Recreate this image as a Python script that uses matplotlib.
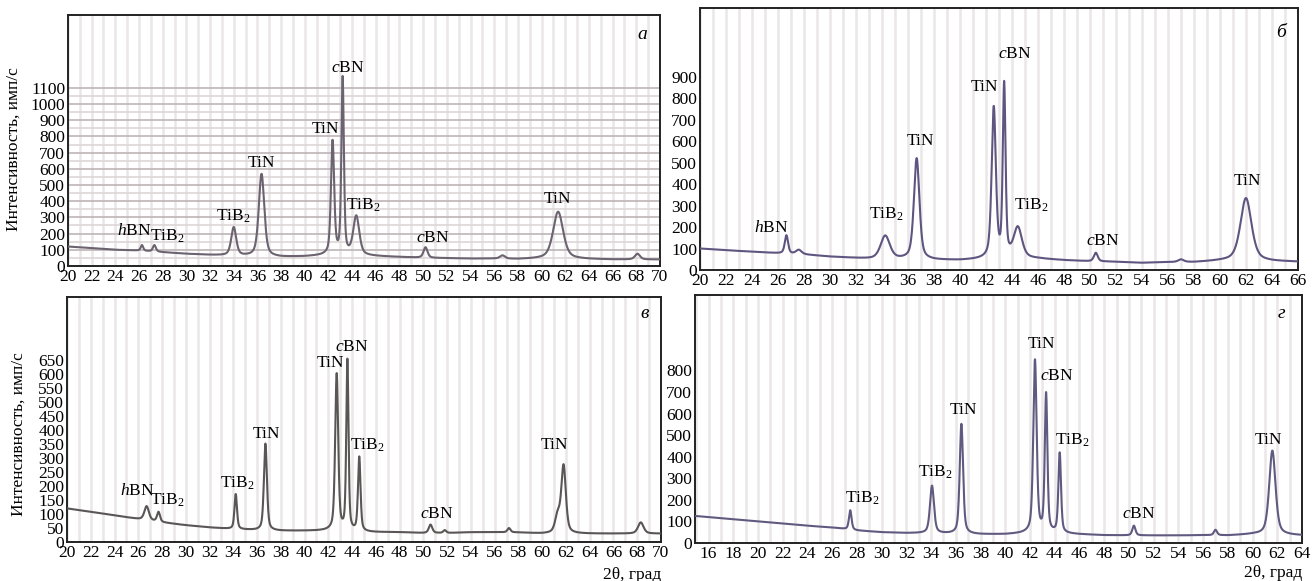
import numpy as np
import matplotlib
matplotlib.use('Agg')
import matplotlib.pyplot as plt

plt.rcParams['font.family'] = ['Liberation Serif', 'DejaVu Serif']
plt.rcParams['mathtext.fontset'] = 'custom'
plt.rcParams['mathtext.rm'] = 'Liberation Serif'
plt.rcParams['mathtext.it'] = 'Liberation Serif:italic'

TIN = 'TiN'
TIB2 = r'TiB$_\mathregular{2}$'
CBN = r'$c$BN'
HBN = r'$h$BN'

# panel a
a_bg_x = [20, 22, 24, 26, 28, 30, 32, 34, 36, 38, 40, 42, 44, 46, 48, 50, 52, 54, 56, 58, 60, 62, 64, 66, 70]
a_bg_y = [120, 110, 100, 95, 85, 75, 68, 62, 58, 55, 58, 65, 65, 60, 55, 50, 48, 45, 45, 42, 45, 45, 42, 40, 40]
a_pk_pos = [26.25, 27.3, 34.0, 36.35, 42.35, 43.2, 44.35, 50.2, 56.7, 61.4, 68.1]
a_pk_hgt = [35, 40, 175, 510, 700, 1090, 240, 65, 20, 290, 35]
a_pk_fw = [0.25, 0.3, 0.5, 0.55, 0.32, 0.25, 0.6, 0.4, 0.5, 1.0, 0.5]
a_lab_txt = [HBN, TIB2, TIB2, TIN, TIN, CBN, TIB2, CBN, TIN]
a_lab_x = [25.6, 28.4, 34.0, 36.35, 41.75, 43.65, 44.95, 50.8, 61.35]
a_lab_y = [216, 185, 305, 635, 845, 1222, 377, 175, 416]

# panel b
b_bg_x = [20, 22, 24, 26, 28, 30, 32, 34, 36, 38, 40, 42, 44, 46, 48, 50, 52, 54, 56, 58, 60, 62, 64, 66]
b_bg_y = [100, 92, 85, 78, 72, 62, 55, 48, 50, 46, 45, 50, 55, 52, 45, 40, 38, 33, 36, 36, 42, 45, 40, 38]
b_pk_pos = [26.65, 27.6, 34.25, 36.67, 42.6, 43.4, 44.45, 50.45, 57.0, 62.0]
b_pk_hgt = [85, 20, 110, 470, 700, 800, 140, 40, 12, 290]
b_pk_fw = [0.3, 0.5, 0.85, 0.5, 0.38, 0.25, 0.75, 0.35, 0.5, 1.0]
b_lab_txt = [HBN, TIB2, TIN, TIN, CBN, TIB2, CBN, TIN]
b_lab_x = [25.5, 34.3, 36.95, 41.9, 44.2, 45.5, 51.0, 62.1]
b_lab_y = [195, 260, 600, 854, 1005, 300, 137, 413]

# panel v
v_bg_x = [20, 22, 24, 26, 28, 30, 32, 34, 36, 38, 40, 42, 44, 46, 48, 50, 52, 54, 56, 58, 60, 62, 64, 66, 70]
v_bg_y = [120, 108, 95, 82, 70, 60, 52, 46, 42, 40, 40, 40, 36, 35, 35, 32, 32, 35, 35, 34, 30, 30, 30, 30, 30]
v_pk_pos = [26.7, 27.7, 34.2, 36.7, 42.7, 43.6, 44.6, 50.6, 51.8, 57.2, 61.3, 61.8, 68.3]
v_pk_hgt = [50, 35, 125, 310, 560, 610, 265, 30, 10, 15, 60, 240, 40]
v_pk_fw = [0.45, 0.3, 0.25, 0.3, 0.3, 0.22, 0.25, 0.35, 0.3, 0.3, 0.5, 0.45, 0.55]
v_lab_txt = [HBN, TIB2, TIB2, TIN, TIN, CBN, TIB2, CBN, TIN]
v_lab_x = [25.9, 28.4, 34.3, 36.8, 42.2, 44.0, 45.3, 51.1, 61.0]
v_lab_y = [181, 148, 208, 384, 641, 697, 346, 100, 348]

# panel g
g_bg_x = [15, 18, 20, 22, 24, 26, 28, 30, 32, 34, 36, 38, 40, 42, 44, 46, 48, 50, 52, 54, 56, 58, 60, 62, 64]
g_bg_y = [125, 110, 100, 90, 80, 72, 58, 50, 46, 45, 42, 40, 40, 45, 45, 40, 36, 35, 35, 35, 36, 35, 40, 38, 35]
g_pk_pos = [27.46, 34.07, 36.45, 42.4, 43.3, 44.4, 50.4, 57.0, 61.6]
g_pk_hgt = [90, 220, 510, 800, 640, 370, 45, 25, 390]
g_pk_fw = [0.25, 0.38, 0.32, 0.32, 0.25, 0.25, 0.3, 0.3, 0.6]
g_lab_txt = [TIB2, TIB2, TIN, TIN, CBN, TIB2, CBN, TIN]
g_lab_x = [28.47, 34.34, 36.6, 42.9, 44.2, 45.4, 50.76, 61.3]
g_lab_y = [207, 326, 616, 921, 773, 477, 135, 477]

FS = 12.5


def profile(x, pos, hgt, fw):
    # pseudo-Voigt peaks, half gaussian half lorentzian
    y = np.zeros_like(x)
    for p, h, w in zip(pos, hgt, fw):
        d = (x - p) / (w / 2.0)
        y += h * (0.5 / (1 + d ** 2) + 0.5 * np.exp(-np.log(2) * d ** 2))
    return y


def draw_panel(ax, xlim, ylim, yticks, xticks, bg_x, bg_y, pos, hgt, fw,
               lab_txt, lab_x, lab_y, letter, letter_xy, color, hgrid=False):
    x = np.linspace(xlim[0], xlim[1], 4000)
    y = np.interp(x, bg_x, bg_y) + profile(x, pos, hgt, fw)

    for xv in np.arange(np.ceil(xlim[0]), xlim[1] + 0.01, 1.0):
        ax.axvline(xv, color='#ebe7e8', lw=1.8, zorder=0)
    if hgrid:
        for yv in range(50, 1101, 50):
            ax.axhline(yv, color='#ddd6d6' if yv % 100 else '#bdb4b5', lw=1.2, zorder=0)

    ax.plot(x, y, color=color, lw=1.5, zorder=3)

    for t, lx, ly in zip(lab_txt, lab_x, lab_y):
        ax.text(lx, ly, t, ha='center', va='center', fontsize=FS, zorder=4)
    ax.text(letter_xy[0], letter_xy[1], letter, ha='center', va='center',
            fontsize=14, style='italic')

    ax.set_xlim(xlim)
    ax.set_ylim(ylim)
    ax.set_xticks(xticks)
    ax.set_yticks(yticks)
    ax.tick_params(length=0, labelsize=FS, pad=2)
    for s in ax.spines.values():
        s.set_linewidth(1.4)
        s.set_color('#222222')


fig = plt.figure(figsize=(13.12, 5.81), dpi=100)

ax_a = fig.add_axes([0.0518, 0.5422, 0.4512, 0.4320])
draw_panel(ax_a, (20, 70), (0, 1550), range(0, 1101, 100), range(20, 71, 2),
           a_bg_x, a_bg_y, a_pk_pos, a_pk_hgt, a_pk_fw,
           a_lab_txt, a_lab_x, a_lab_y, 'а', (68.5, 1432), '#6c6370', hgrid=True)
ax_a.set_ylabel('Интенсивность, имп/с', fontsize=FS)
ax_a.yaxis.set_label_coords(-0.078, 0.466)

ax_b = fig.add_axes([0.5335, 0.5353, 0.4558, 0.4509])
draw_panel(ax_b, (20, 66), (0, 1220), range(0, 901, 100), range(20, 67, 2),
           b_bg_x, b_bg_y, b_pk_pos, b_pk_hgt, b_pk_fw,
           b_lab_txt, b_lab_x, b_lab_y, 'б', (64.7, 1106), '#5e5680')

ax_v = fig.add_axes([0.0511, 0.0671, 0.4527, 0.4217])
draw_panel(ax_v, (20, 70), (0, 875), range(0, 651, 50), range(20, 71, 2),
           v_bg_x, v_bg_y, v_pk_pos, v_pk_hgt, v_pk_fw,
           v_lab_txt, v_lab_x, v_lab_y, 'в', (68.6, 816), '#5a5656')
ax_v.set_ylabel('Интенсивность, имп/с', fontsize=FS)
ax_v.yaxis.set_label_coords(-0.068, 0.44)
ax_v.text(1.0, -0.135, '2θ, град', transform=ax_v.transAxes, ha='right', va='center', fontsize=FS)

ax_g = fig.add_axes([0.5297, 0.0654, 0.4627, 0.4269])
draw_panel(ax_g, (14.9, 64), (0, 1150), range(0, 801, 100), range(16, 65, 2),
           g_bg_x, g_bg_y, g_pk_pos, g_pk_hgt, g_pk_fw,
           g_lab_txt, g_lab_x, g_lab_y, 'г', (62.3, 1064), '#605a80')
ax_g.text(1.0, -0.12, '2θ, град', transform=ax_g.transAxes, ha='right', va='center', fontsize=FS)

fig.savefig('out.png', dpi=100)
